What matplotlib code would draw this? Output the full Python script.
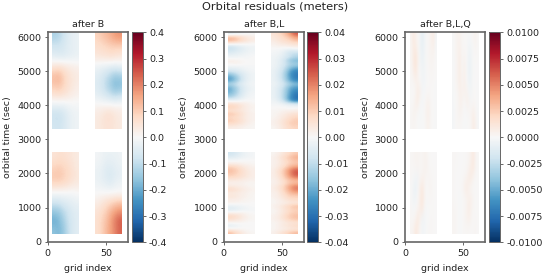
import numpy as np
import matplotlib
matplotlib.use("Agg")
import matplotlib.pyplot as plt

# grid index / time range of the four data blocks
x_left = [4, 27]
x_right = [40.5, 63.5]
t_low = [210, 2600]
t_up = [3300, 6130]

# --- after B, values in meters, rows go up in time, columns go up in grid index
b_left_low = [
    [-.18, -.20, -.17, -.11, -.07, -.05],
    [-.22, -.20, -.15, -.10, -.07, -.05],
    [-.17, -.16, -.12, -.09, -.06, -.05],
    [-.08, -.08, -.06, -.05, -.04, -.03],
    [-.01, -.01, -.01, -.01, -.01, 0.0],
    [.09, .09, .08, .07, .05, .04],
    [.12, .13, .11, .09, .07, .05],
    [.09, .10, .09, .08, .06, .04],
    [.06, .07, .07, .06, .05, .04],
]
b_right_low = [
    [.07, .10, .14, .18, .22, .26],
    [.07, .10, .13, .18, .23, .27],
    [.06, .08, .11, .15, .18, .20],
    [.03, .05, .07, .09, .11, .12],
    [0.0, 0.0, 0.0, 0.0, 0.0, 0.0],
    [-.02, -.03, -.04, -.05, -.03, -.02],
    [-.03, -.04, -.06, -.07, -.05, -.04],
    [-.02, -.03, -.05, -.05, -.04, -.03],
    [-.01, -.02, -.03, -.03, -.03, -.02],
]
b_left_up = [
    [-.08, -.09, -.07, -.05, -.03, -.02],
    [-.10, -.10, -.08, -.05, -.03, -.02],
    [-.03, -.03, -.03, -.02, -.01, -.01],
    [.06, .07, .06, .05, .03, .02],
    [.12, .13, .10, .07, .05, .03],
    [.14, .15, .11, .07, .05, .04],
    [.05, .06, .05, .04, .03, .02],
    [-.05, -.06, -.06, -.05, -.04, -.03],
    [-.08, -.08, -.07, -.05, -.04, -.03],
    [-.14, -.13, -.09, -.06, -.04, -.03],
]
b_right_up = [
    [.04, .05, .06, .06, .05, .04],
    [.04, .05, .07, .07, .05, .04],
    [.01, .01, .01, .01, .01, .01],
    [-.04, -.06, -.08, -.10, -.12, -.10],
    [-.06, -.08, -.12, -.16, -.20, -.19],
    [-.05, -.07, -.10, -.13, -.16, -.15],
    [-.02, -.03, -.03, -.04, -.04, -.03],
    [.05, .06, .06, .07, .06, .05],
    [.07, .08, .09, .10, .10, .10],
    [.10, .12, .14, .16, .19, .20],
]

# --- after B,L, values in mm, one row about every 100 s
bl_left_low = [
    [14, 9, 5, 2, 1], [2, 1, 1, 0, 0], [-5, -3, -1, 0, 0], [1, 1, 1, 0, 0], [8, 6, 4, 2, 1],
    [10, 8, 5, 2, 1], [2, 2, 2, 1, 0], [-6, -5, -3, -2, -1], [-4, -3, -2, -1, 0], [2, 2, 1, 1, 0],
    [3, 3, 2, 1, 1], [6, 5, 3, 2, 1], [4, 4, 3, 2, 1], [9, 7, 5, 3, 2], [5, 4, 3, 2, 1],
    [2, 2, 2, 1, 1], [5, 5, 4, 3, 2], [10, 9, 7, 5, 3], [13, 11, 8, 5, 3], [14, 12, 8, 5, 3],
    [11, 9, 6, 4, 2], [3, 3, 2, 1, 1], [-1, -1, 0, 0, 0], [-6, -5, -3, -2, -1], [-9, -7, -4, -2, -1],
]
bl_right_low = [
    [2, 5, 8, 12, 15], [1, 2, 3, 4, 5], [1, 3, 5, 7, 9], [1, 2, 4, 5, 6], [2, 4, 7, 11, 13],
    [2, 4, 8, 12, 14], [1, 3, 6, 10, 12], [1, 3, 6, 9, 11], [2, 4, 7, 11, 14], [1, 2, 3, 4, 5],
    [1, 3, 5, 8, 9], [2, 4, 7, 11, 11], [2, 4, 9, 14, 17], [3, 6, 11, 18, 24], [3, 6, 11, 19, 24],
    [2, 4, 8, 13, 15], [2, 5, 9, 14, 16], [3, 6, 12, 20, 26], [3, 7, 13, 22, 30], [3, 7, 13, 22, 28],
    [2, 5, 9, 15, 19], [2, 4, 7, 11, 13], [2, 4, 8, 11, 14], [2, 5, 9, 13, 17], [1, 3, 6, 9, 12],
]
bl_left_up = [
    [3, 3, 2, 1, 1], [8, 7, 5, 3, 1], [12, 10, 7, 4, 2], [9, 8, 6, 3, 2], [13, 11, 7, 4, 2],
    [7, 6, 5, 3, 1], [11, 9, 6, 3, 2], [8, 7, 5, 3, 1], [-2, -2, -1, 0, 0], [-14, -10, -5, -2, -1],
    [-20, -14, -7, -3, -1], [-23, -16, -8, -4, -2], [-22, -15, -8, -4, -2], [-14, -10, -5, -3, -1], [-25, -18, -9, -4, -2],
    [-25, -18, -9, -4, -2], [-17, -12, -7, -4, -2], [-7, -6, -4, -2, -1], [-3, -3, -2, -1, -1], [1, 2, 1, 0, 0],
    [3, 2, 1, 0, 0], [-2, -2, -1, -1, 0], [-5, -4, -3, -2, -1], [-9, -7, -5, -3, -2], [-11, -8, -5, -3, -2],
    [2, 1, 1, 1, 0], [16, 14, 9, 6, 4], [14, 12, 8, 5, 3], [-6, -4, -2, -1, 0],
]
bl_right_up = [
    [1, 3, 6, 9, 10], [2, 4, 7, 11, 12], [2, 4, 7, 10, 12], [1, 3, 5, 8, 10], [1, 2, 4, 6, 7],
    [1, 1, 2, 2, 3], [0, 0, 0, -1, -1], [-1, -1, -3, -5, -6], [-2, -5, -12, -26, -33], [-3, -7, -15, -28, -35],
    [-3, -7, -14, -26, -34], [-3, -7, -14, -25, -30], [-3, -6, -12, -22, -26], [-2, -5, -9, -16, -20], [-3, -6, -13, -24, -30],
    [-3, -7, -14, -26, -33], [-3, -7, -14, -27, -33], [-3, -6, -12, -24, -30], [-2, -5, -10, -18, -22], [-2, -4, -8, -14, -16],
    [-2, -4, -9, -18, -22], [-2, -3, -6, -10, -14], [-1, -2, -5, -10, -12], [-1, -1, -3, -6, -5], [1, 1, 1, 2, 3],
    [2, 4, 5, 6, 7], [4, 6, 8, 10, 14], [5, 7, 10, 14, 20], [6, 9, 13, 20, 30],
]

# --- after B,L,Q, values in mm, faint wiggly vertical stripes
blq_left_low = [
    [.3, .6, 1.5, 1.0, .2, -.4, -.3, 0, .2, .2, .1, 0],
    [.2, .2, .6, 1.5, .6, -.5, -.4, -.1, .1, .2, .1, 0],
    [.2, -.2, .1, .4, 1.2, 1.4, .2, -.2, .1, .1, 0, .1],
    [.1, -.5, -.6, .2, 1.0, 1.6, .6, 0, .2, .2, .1, 0],
    [.1, -.6, -1.0, -.2, 1.0, 1.5, .4, .1, .3, .3, .1, 0],
    [.2, -.2, -.4, -.6, .3, .6, .5, .2, .3, .2, .1, 0],
    [.2, .2, .3, .4, .2, .3, .6, .5, .2, .1, .1, 0],
    [.2, .3, .4, .4, .3, .3, .5, .4, .1, .1, .1, 0],
]
blq_right_low = [
    [.3, .3, .1, -.1, .1, .2, .2, .2, .1, .2, .3, .1],
    [.3, .3, .1, -.1, 0, .3, .6, .8, .4, .1, .2, .1],
    [.3, .2, 0, -.1, 0, .2, .6, 1.0, .6, .2, .1, .1],
    [.2, .1, 0, -.1, 0, .2, .4, .8, .8, .3, .1, .1],
    [.2, .1, 0, 0, .2, .8, 1.2, .6, .2, 0, .1, .1],
    [.2, .1, 0, 0, .1, .3, .6, 1.2, 1.2, .4, .1, .1],
    [.2, .1, 0, 0, 0, .1, .2, .5, 1.2, 1.4, .4, .1],
    [.2, .2, .1, 0, 0, .1, .2, .3, .8, 1.4, .4, .1],
]
blq_left_up = [
    [.2, .3, .2, .1, -.1, -.1, .1, .5, .5, .1, 0, -.1],
    [.2, .5, .4, -.1, -.2, -.1, .2, .7, .7, .2, 0, -.1],
    [.1, .2, .8, 1.0, -.1, -.3, 0, .5, .6, .1, 0, -.1],
    [.1, .1, .3, 1.2, .8, -.3, -.2, .1, .2, .1, 0, -.1],
    [.2, .3, .7, .6, .1, -.4, -.4, 0, .1, .2, .1, 0],
    [.2, 1.0, 1.6, .5, -.2, -.6, -.4, 0, .2, .3, .2, 0],
    [.3, 1.3, 2.0, .8, -.4, -.9, -.4, .1, .3, .4, .3, 0],
    [.3, 1.2, 1.3, .4, -.5, -1.2, -.5, .1, .3, .6, .7, -.2],
    [.4, 1.4, .8, .2, -.5, -1.4, -.6, .1, .3, .8, 1.2, -.3],
]
blq_right_up = [
    [-.3, .1, .2, .2, .1, -.1, 0, .1, .3, 1.1, .5, -.2],
    [-.3, .1, .3, .5, .3, -.1, -.2, .2, .4, .9, .3, -.2],
    [-.2, .1, .2, .7, .6, .1, .7, .6, -.2, .2, .1, -.1],
    [-.2, .1, .3, .8, .5, .7, .6, -.3, -.4, .1, .1, -.1],
    [-.1, .2, .5, 1.0, .3, .8, .1, -.7, -.6, 0, .1, 0],
    [-.1, .2, .6, 1.2, .2, .8, 0, -.9, -.7, 0, .1, 0],
    [-.1, .2, .6, 1.0, .2, .5, 0, -.8, -.6, 0, .1, .1],
    [-.1, .3, .6, .8, .2, .2, .1, -.5, -.4, .1, .3, .1],
    [-.1, .3, .5, .6, .2, 0, .1, -.2, -.1, .3, .5, .1],
]

panel_titles = ["after B", "after B,L", "after B,L,Q"]
panel_limits = [0.4, 0.04, 0.01]
panel_ticks = [
    [-.4, -.3, -.2, -.1, 0, .1, .2, .3, .4],
    [-.04, -.03, -.02, -.01, 0, .01, .02, .03, .04],
    [-.01, -.0075, -.005, -.0025, 0, .0025, .005, .0075, .01],
]
panel_fmt = ["%.1f", "%.2f", "%.4f"]
# my first readings came out too saturated against the reference, hence the factors
panel_scale = [0.9, 0.85e-3, 0.65e-3]
panel_blocks = [
    [b_left_low, b_right_low, b_left_up, b_right_up],
    [bl_left_low, bl_right_low, bl_left_up, bl_right_up],
    [blq_left_low, blq_right_low, blq_left_up, blq_right_up],
]
block_x = [x_left, x_right, x_left, x_right]
block_t = [t_low, t_low, t_up, t_up]

W, H = 550, 276
ax_boxes = [(47.7, 128.0), (223.7, 304.0), (405.0, 485.3)]
cb_boxes = [(131.7, 142.7), (307.0, 318.0), (489.3, 500.3)]
top, bottom = 32.3, 242.3
edge = "#666666"

plt.rcParams["font.size"] = 6.8
plt.rcParams["text.color"] = "#222222"
plt.rcParams["axes.labelcolor"] = "#222222"
plt.rcParams["xtick.labelcolor"] = "#222222"
plt.rcParams["ytick.labelcolor"] = "#222222"

fig = plt.figure(figsize=(W / 100, H / 100), dpi=100)

for i in range(3):
    ax = fig.add_axes([ax_boxes[i][0] / W, 1 - bottom / H,
                       (ax_boxes[i][1] - ax_boxes[i][0]) / W, (bottom - top) / H])
    lim = panel_limits[i]
    for vals, bx, bt in zip(panel_blocks[i], block_x, block_t):
        im = ax.imshow(np.array(vals) * panel_scale[i], origin="lower",
                       extent=[bx[0], bx[1], bt[0], bt[1]], aspect="auto",
                       cmap="RdBu_r", vmin=-lim, vmax=lim, interpolation="bicubic")
    ax.set_xlim(0, 69)
    ax.set_ylim(-20, 6140)
    ax.set_xticks([0, 50])
    ax.set_yticks([0, 1000, 2000, 3000, 4000, 5000, 6000])
    ax.set_xlabel("grid index", labelpad=4.5)
    ax.set_ylabel("orbital time (sec)", labelpad=3.5)
    ax.set_title(panel_titles[i], fontsize=6.8, pad=3.5)
    ax.tick_params(length=2.5, width=0.7, pad=2, color=edge)
    for s in ax.spines.values():
        s.set_color(edge)
        s.set_linewidth(1.2)

    cax = fig.add_axes([cb_boxes[i][0] / W, 1 - bottom / H,
                        (cb_boxes[i][1] - cb_boxes[i][0]) / W, (bottom - top) / H])
    cb = fig.colorbar(im, cax=cax, ticks=panel_ticks[i], format=panel_fmt[i])
    cb.ax.tick_params(length=2.5, width=0.7, pad=2, color=edge)
    cb.outline.set_edgecolor(edge)
    cb.outline.set_linewidth(0.7)

fig.suptitle("Orbital residuals (meters)", x=0.5, y=0.995, fontsize=8.2, va="top")
fig.savefig("out.png", dpi=100)
